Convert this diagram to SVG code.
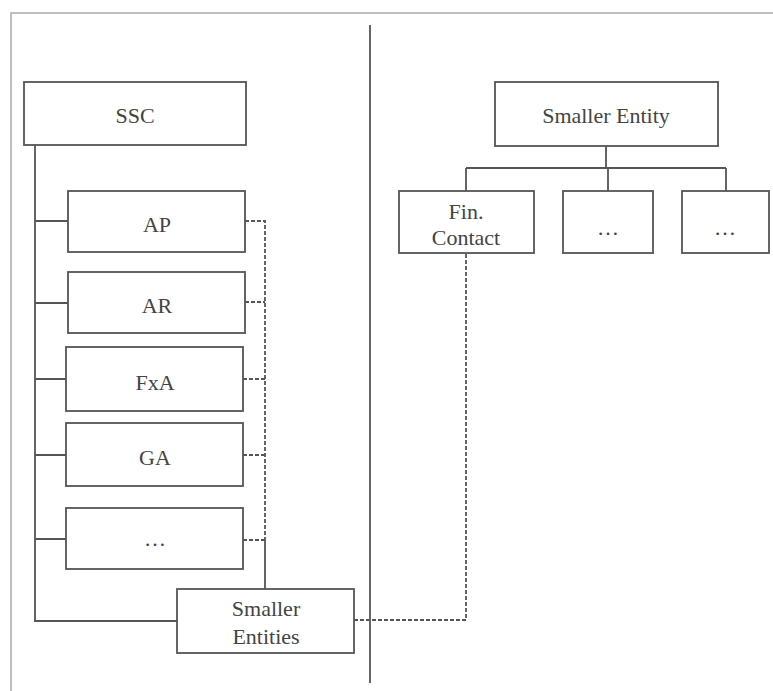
<svg xmlns="http://www.w3.org/2000/svg" width="773" height="691" viewBox="0 0 773 691">
<style>
.box{fill:#fff;stroke:#555;stroke-width:1.8}
.ln{fill:none;stroke:#555;stroke-width:1.8}
.dash{fill:none;stroke:#555;stroke-width:1.8;stroke-dasharray:4,2}
.frame{fill:none;stroke:#aaa;stroke-width:1.5}
text{font-family:"Liberation Serif","Times New Roman",serif;font-size:22px;fill:#444;text-anchor:middle}
</style>
<rect width="773" height="691" fill="#fff"/>
<g id="frame">
<path class="frame" d="M11,691 V13 H773"/>
<line class="ln" x1="370" y1="25" x2="370" y2="683" stroke-width="1.5"/>
</g>
<g id="connectors">
<path class="ln" d="M35,145 V621 H177"/>
<path class="ln" d="M35,221 H68 M35,303 H68 M35,379 H66 M35,455 H66 M35,539 H66"/>
<path class="dash" d="M245,221 H265 V540 M245,302 H265 M243,379 H265 M243,455 H265 M243,540 H265"/>
<path class="ln" d="M265,540 V589"/>
<path class="dash" d="M354,620 H466 V253"/>
<path class="ln" d="M606,146 V168 M466,168 H726 M466,168 V191 M608,168 V191 M726,168 V191"/>
</g>
<g id="ssc"><rect class="box" x="24" y="82" width="222" height="63"/><text x="135" y="123">SSC</text></g>
<g id="ap"><rect class="box" x="68" y="191" width="177" height="61"/><text x="157" y="232">AP</text></g>
<g id="ar"><rect class="box" x="68" y="272" width="177" height="61"/><text x="157" y="313">AR</text></g>
<g id="fxa"><rect class="box" x="66" y="347" width="177" height="64"/><text x="155" y="390">FxA</text></g>
<g id="ga"><rect class="box" x="66" y="423" width="177" height="63"/><text x="155" y="465">GA</text></g>
<g id="more"><rect class="box" x="66" y="508" width="177" height="61"/><text x="155" y="546">…</text></g>
<g id="smaller-entities"><rect class="box" x="177" y="589" width="177" height="64"/><text x="266" y="616">Smaller</text><text x="266" y="644">Entities</text></g>
<g id="smaller-entity"><rect class="box" x="495" y="82" width="223" height="64"/><text x="606" y="123">Smaller Entity</text></g>
<g id="fin-contact"><rect class="box" x="399" y="191" width="135" height="62"/><text x="466" y="219">Fin.</text><text x="466" y="245">Contact</text></g>
<g id="dots1"><rect class="box" x="563" y="191" width="90" height="62"/><text x="608" y="235">…</text></g>
<g id="dots2"><rect class="box" x="682" y="191" width="87" height="62"/><text x="725" y="235">…</text></g>
</svg>
